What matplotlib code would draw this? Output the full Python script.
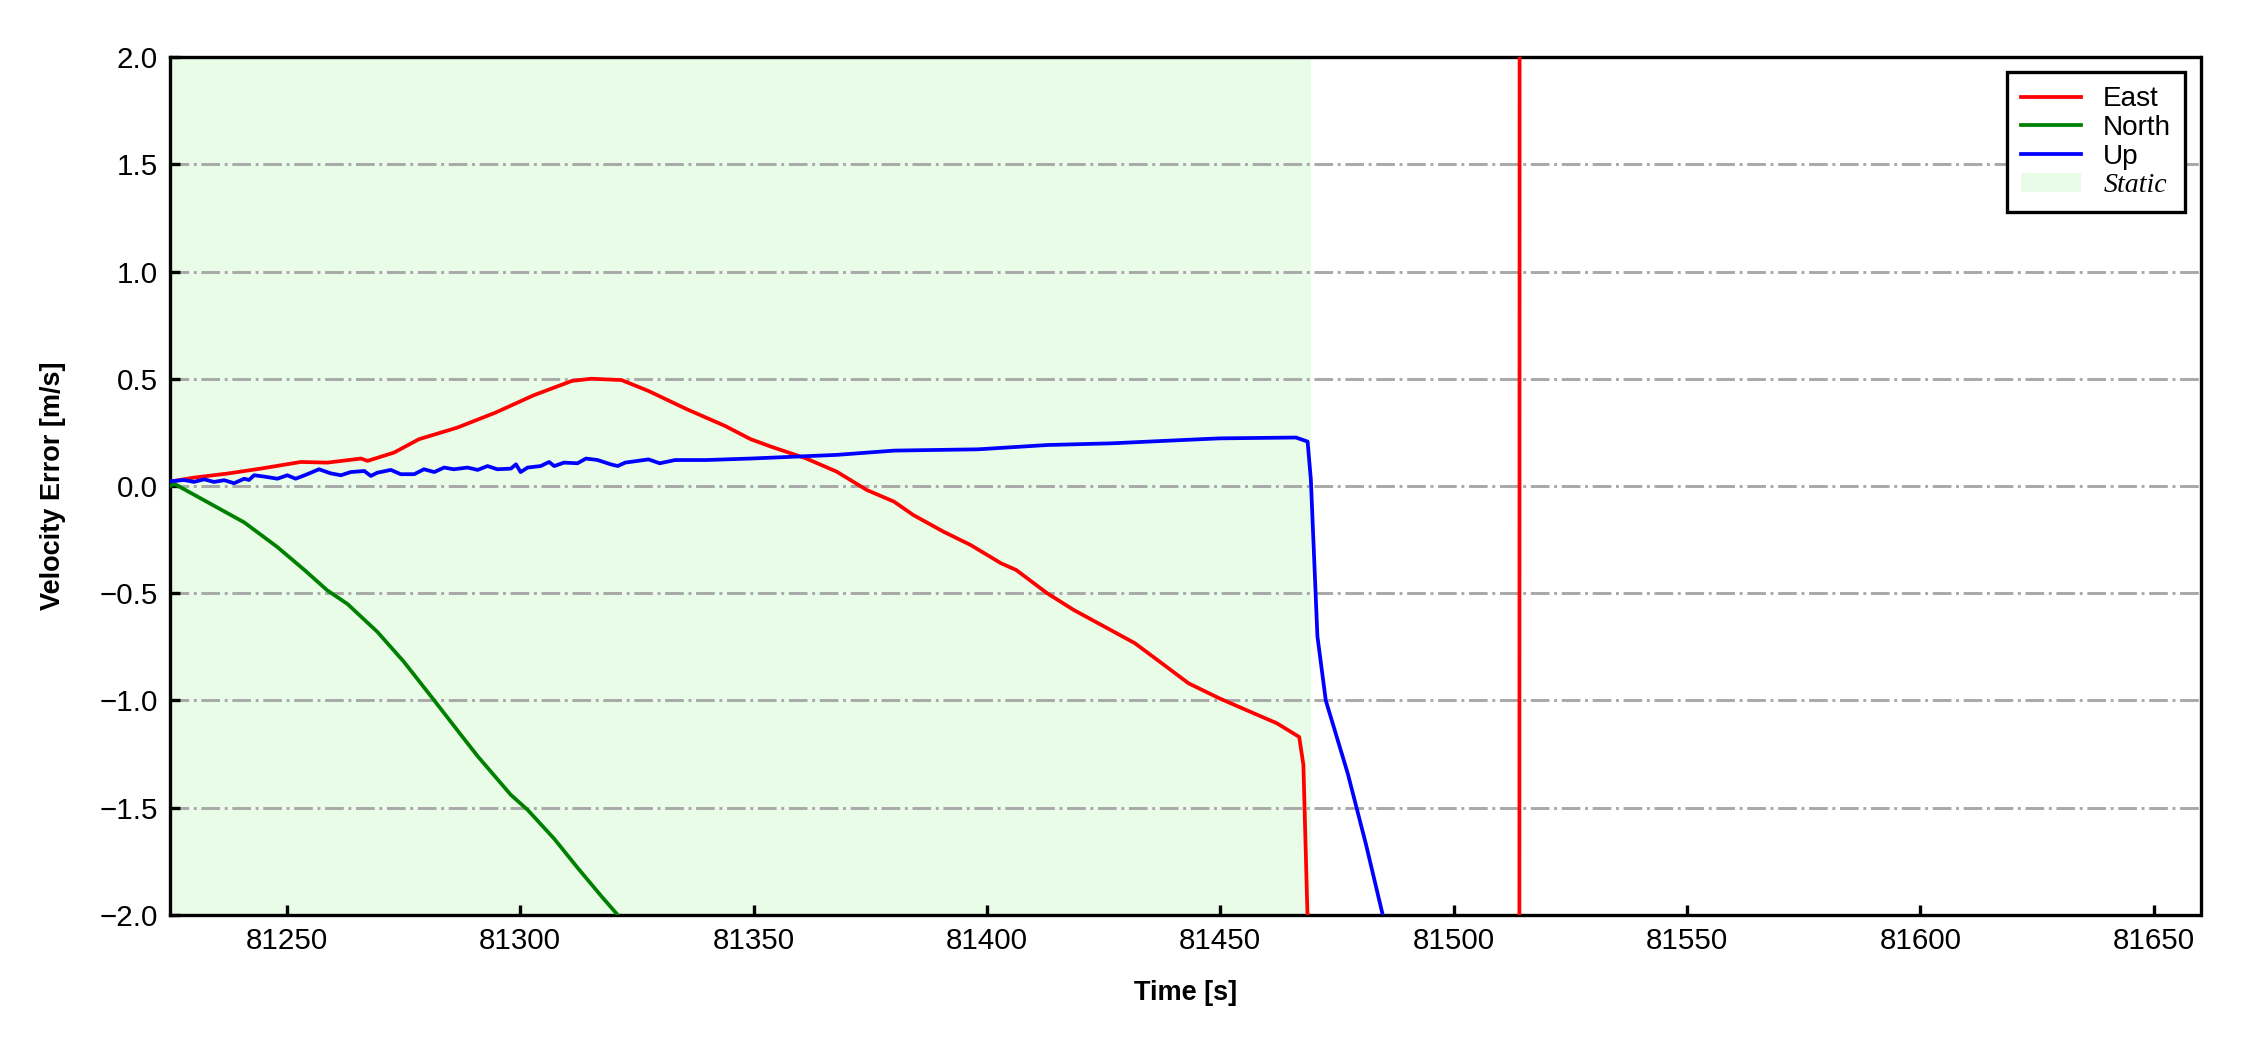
import matplotlib
matplotlib.use("Agg")
import matplotlib.pyplot as plt
from matplotlib.patches import Patch
from matplotlib.lines import Line2D

plt.rcParams['font.family'] = ['Liberation Sans', 'DejaVu Sans']

# ---- data ----
t_east = [81225, 81230.1, 81237.3, 81244.4, 81253, 81258.7, 81265.9, 81267.3, 81273, 81278.3,
          81286.5, 81294.7, 81302.9, 81311.1, 81315.2, 81321.7, 81327.5, 81335.7, 81343.9,
          81349.4, 81353.8, 81361.2, 81367.8, 81374.3, 81380.1, 81384.2, 81390.7, 81396.5,
          81403, 81406.3, 81412.9, 81418.6, 81425.2, 81431.7, 81437.5, 81443.2, 81449.8,
          81455.5, 81462.1, 81466.9, 81467.8, 81468.7, 81470, 81500, 81514.0, 81514.2,
          81560, 81660]
east = [0.02, 0.039, 0.058, 0.081, 0.112, 0.109, 0.128, 0.117, 0.156, 0.218,
        0.272, 0.342, 0.423, 0.49, 0.50, 0.494, 0.443, 0.358, 0.28,
        0.218, 0.183, 0.129, 0.067, -0.019, -0.073, -0.135, -0.213, -0.275,
        -0.36, -0.392, -0.50, -0.578, -0.656, -0.733, -0.827, -0.92, -0.99,
        -1.044, -1.106, -1.17, -1.30, -2.02, -5.0, -8.0, -9.0, 9.0,
        9.0, 9.0]

t_north = [81225, 81225.9, 81230.9, 81235.9, 81240.9, 81248, 81253.7, 81258.7, 81263,
           81269.4, 81275.1, 81281.6, 81287.3, 81290.9, 81298, 81301.6, 81307.3, 81312.3,
           81317.3, 81320.9, 81330, 81400]
north = [0.0, 0.01, -0.05, -0.11, -0.17, -0.285, -0.39, -0.487, -0.55,
         -0.68, -0.82, -1.00, -1.16, -1.26, -1.44, -1.51, -1.645, -1.78,
         -1.91, -2.0, -2.3, -5.0]

t_up = [81225, 81225.5, 81228, 81230.1, 81232.3, 81234.4, 81236.6, 81238.7, 81240.9, 81241.9,
        81243, 81245.1, 81248, 81250.1, 81251.9, 81254.4, 81256.9, 81259.4, 81261.6, 81263.7,
        81266.6, 81268, 81269.4, 81272.3, 81274.4, 81277.3, 81279.4, 81281.6, 81283.7, 81285.8,
        81288.7, 81290.9, 81293, 81295.1, 81298, 81299.1, 81300.1, 81301.6, 81304.4, 81306.2,
        81307.3, 81309.4, 81312.3, 81314.1, 81316.6, 81319.4, 81320.9, 81322.5, 81327.5,
        81329.9, 81333.2, 81339.8, 81349.4, 81367.8, 81380.1, 81398.1, 81412.9, 81426.8,
        81441.6, 81449.8, 81466.2, 81468.7, 81469.4, 81470.8, 81472.6, 81477.3, 81481.2,
        81484.8, 81490, 81550, 81660]
up = [0.02, 0.023, 0.028, 0.019, 0.031, 0.019, 0.027, 0.013, 0.034, 0.028,
      0.05, 0.044, 0.034, 0.05, 0.034, 0.055, 0.078, 0.059, 0.05, 0.065,
      0.07, 0.047, 0.062, 0.075, 0.055, 0.055, 0.078, 0.065, 0.086, 0.078,
      0.086, 0.075, 0.093, 0.078, 0.081, 0.101, 0.065, 0.086, 0.093, 0.112,
      0.093, 0.109, 0.106, 0.128, 0.121, 0.101, 0.093, 0.109, 0.124,
      0.106, 0.121, 0.121, 0.128, 0.145, 0.165, 0.171, 0.191, 0.199,
      0.214, 0.222, 0.226, 0.207, 0.03, -0.70, -1.0, -1.34, -1.67,
      -2.0, -2.4, -5.0, -5.0]

static_range = (81225, 81469.5)
xlim = (81225, 81660)
ylim = (-2.0, 2.0)
xticks = [81250, 81300, 81350, 81400, 81450, 81500, 81550, 81600, 81650]
yticks = [-2.0, -1.5, -1.0, -0.5, 0.0, 0.5, 1.0, 1.5, 2.0]
ytick_labels = ['\u22122.0', '\u22121.5', '\u22121.0', '\u22120.5', '0.0', '0.5', '1.0', '1.5', '2.0']

fig = plt.figure(figsize=(7.5, 3.5), dpi=300)
ax = fig.add_axes([0.0756, 0.1286, 0.9024, 0.8171])

ax.axvspan(static_range[0], static_range[1], color='#e8fce8', lw=0, zorder=0)
ax.plot(t_east, east, color='red', lw=0.9, label='East', zorder=3)
ax.plot(t_north, north, color='green', lw=0.9, label='North', zorder=3)
ax.plot(t_up, up, color='blue', lw=0.9, label='Up', zorder=3)

ax.set_xlim(*xlim)
ax.set_ylim(*ylim)
ax.set_xticks(xticks)
ax.set_yticks(yticks)
ax.set_yticklabels(ytick_labels)
ax.yaxis.grid(True, linestyle='-.', color='#a8a8a8', lw=0.7, zorder=1)
ax.set_axisbelow(True)
ax.tick_params(direction='in', length=2.5, width=0.8, labelsize=7.1, pad=3)
for s in ax.spines.values():
    s.set_linewidth(0.8)

ax.set_xlabel('Time [s]', fontsize=6.5, fontweight='bold', labelpad=6)
ax.set_ylabel('Velocity Error [m/s]', fontsize=6.5, fontweight='bold', labelpad=8)

handles = [Line2D([], [], color='red', lw=0.9),
           Line2D([], [], color='green', lw=0.9),
           Line2D([], [], color='blue', lw=0.9),
           Patch(facecolor='#e8fce8', edgecolor='none')]
labels = ['East', 'North', 'Up', 'Static']
leg = ax.legend(handles, labels, loc='upper right', fontsize=6.7, frameon=True,
                fancybox=False, edgecolor='black', framealpha=1,
                borderaxespad=0.55, handlelength=2.15, handletextpad=0.8,
                labelspacing=0.1, borderpad=0.5)
leg.get_frame().set_linewidth(0.8)
leg.get_texts()[3].set_fontfamily('Liberation Serif')
leg.get_texts()[3].set_fontstyle('italic')

fig.savefig('out.png', dpi=300)
